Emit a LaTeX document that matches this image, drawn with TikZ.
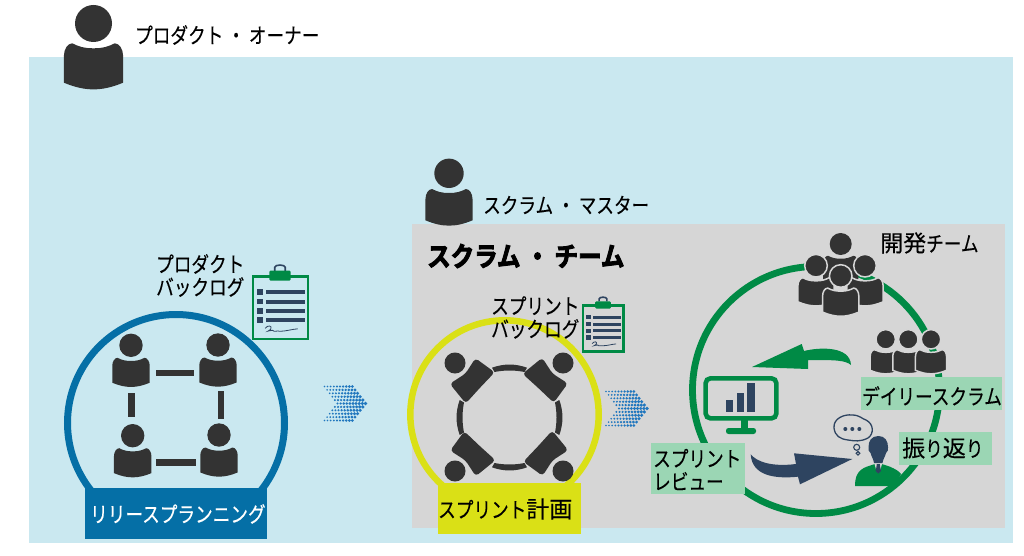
\documentclass[tikz,border=0pt]{standalone}
\usepackage{fontspec}
\newfontfamily\jp[FakeStretch=0.82,FakeBold=0.25]{Noto Sans CJK JP}
\newfontfamily\jk[FakeStretch=1.0,FakeBold=0.25]{Noto Sans CJK JP}
\newfontfamily\jpb[FakeStretch=0.87,FakeBold=3.5]{Noto Sans CJK JP Bold}
\newcommand{\kj}[1]{{\jk\fontsize{23}{23}\selectfont #1}}
\definecolor{bgblue}{HTML}{CAE8F0}
\definecolor{teamgray}{HTML}{D6D6D6}
\definecolor{dark}{HTML}{333333}
\definecolor{ringblue}{HTML}{056FA6}
\definecolor{ringyellow}{HTML}{DAE016}
\definecolor{ringgreen}{HTML}{008A45}
\definecolor{navy}{HTML}{2E4460}
\definecolor{lab}{HTML}{9BD6B4}
\definecolor{dotblue}{HTML}{2177BE}
\tikzset{
 txt/.style={font=\jp\fontsize{21.5}{23}\selectfont,inner sep=0pt,anchor=west,align=left,text=black},
 bar/.style={fill=dark},
 labbox/.style={fill=lab},
 pics/person/.style={code={
  \fill[dark,#1] (0,0) circle (1);
  \fill[dark,#1] (0,1.34) .. controls (0.5,1.34) and (0.8,1.25) .. (1.15,1.07)
    .. controls (1.4,1.07) and (1.6,1.4) .. (1.6,1.75) -- (1.6,3.2)
    .. controls (1,3.45) and (0.5,3.56) .. (0,3.56)
    .. controls (-0.5,3.56) and (-1,3.45) .. (-1.6,3.2) -- (-1.6,1.75)
    .. controls (-1.6,1.4) and (-1.4,1.07) .. (-1.15,1.07)
    .. controls (-0.8,1.25) and (-0.5,1.34) .. (0,1.34) -- cycle;
 }},
 pics/person/.default={},
 halo/.style={draw=teamgray,line width=1.5pt},
 pics/sitter/.style={code={
  \fill[dark] (0,0) circle (1);
  \fill[dark,rounded corners=3.5pt] (-1.75,1.05) -- (0,1.42) -- (1.7,1.05) -- (2.05,3.3)
    -- (0,3.35) -- (-2.0,3.45) -- cycle;
 }},
 pics/arcbit/.style={code={
  \fill[dark] (-17.5,-49.8) .. controls (-6,-54) and (6,-54) .. (17.5,-49.8)
    -- (15,-45.5) .. controls (5,-47.5) and (-5,-47.5) .. (-15,-45.5) -- cycle;
 }},
 pics/clipb/.style={code={
  \draw[ringgreen,line width=2.4pt,fill=#1] (1.2,1.2) rectangle (56.1,63.8);
  \draw[navy,line width=1.6pt] (23,-4.5) -- (23,-8) .. controls (23,-11) and (33.5,-11) .. (33.5,-8) -- (33.5,-4.5);
  \fill[ringgreen,rounded corners=1.2pt] (17.6,-4.6) rectangle (39,5.4);
  \foreach \yy in {14,23.4,32.7,42}{
    \fill[navy] (5.3,\yy) rectangle (11.6,\yy+5.6);
    \fill[navy] (14.3,\yy+1) rectangle (53.3,\yy+5);
  }
  \draw[navy,line width=.8pt] (13.5,53) .. controls (16,49.5) and (21,50) .. (19,54)
    .. controls (15,57) and (15,55.5) .. (21,55) .. controls (22,55) and (22,57) .. (24,56)
    .. controls (26,55) and (26,56) .. (28,56) .. controls (34,56) and (40,54) .. (46,53.5);
 }},
 pics/chev/.style={code={
  \foreach \i in {-5,...,5}{
    \pgfmathsetmacro\st{abs(\i)/5}
    \pgfmathsetmacro\lft{13*(1-\st)}
    \pgfmathsetmacro\rgt{30+14*(1-\st)}
    \pgfmathtruncatemacro\nn{floor((\rgt-\lft)/3.1)}
    \foreach \k in {0,...,\nn}{
      \pgfmathsetmacro\xx{\lft+\k*3.1}
      \pgfmathsetmacro\rr{0.8+1.15*\xx/44}
      \fill[dotblue] (\xx,\i*3.4) circle (\rr);
    }
  }
 }},
}
\begin{document}
\begin{tikzpicture}[x=1pt,y=-1pt]
\useasboundingbox (0,0) rectangle (1024,556);
\fill[white] (0,0) rectangle (1024,556);
\fill[bgblue] (29,57) rectangle (1013,543);
\fill[teamgray] (412,224) rectangle (1005,528);

% product owner
\pic[scale=18.5] (po) at (93.5,23.5) {person};
\node[txt] (potext) at (135,35) {プロダクト ・ オーナー};

% scrum master
\pic[scale=14.7] (sm) at (449,173.3) {person};
\node[txt] (smtext) at (483,205) {スクラム ・ マスター};
\node[txt,font=\jpb\fontsize{27}{28}\selectfont] (teamtext) at (427,256) {スクラム ・ チーム};

% release planning
\draw[ringblue,line width=7pt] (176,423) circle (108.5);
\fill[ringblue] (85,488) rectangle (267,539);
\node[txt,text=white] (reltext) at (90,514) {リリースプランニング};
\pic[scale=11.7] (a1) at (131,345.3) {person};
\pic[scale=11.7] (a2) at (218,345) {person};
\pic[scale=11.7] (a3) at (132.7,435.7) {person};
\pic[scale=11.7] (a4) at (219,435) {person};
\fill[bar] (155.7,369.7) rectangle (194.3,376.3);
\fill[bar] (156,459) rectangle (196,465.7);
\fill[bar] (128.3,393.3) rectangle (134.7,417.3);
\fill[bar] (217.7,390.7) rectangle (224,418.7);
\pic at (251.7,275.3) {clipb=bgblue};
\node[txt] (pbtext) at (156,275.5) {プロダクト\\バックログ};
\pic at (324.5,403.5) {chev};

% sprint planning
\draw[ringyellow,line width=6.5pt] (504.5,414.5) circle (94.2);
\fill[ringyellow] (438,483) rectangle (581,534);
\node[txt] (sptext) at (438,509) {スプリント\kj{計画}};
\pic[scale=10.5,rotate=45] (s1) at (455,363) {sitter};
\pic[scale=10.5,rotate=-45] (s2) at (563,363) {sitter};
\pic[scale=10.5,rotate=135] (s3) at (455,471) {sitter};
\pic[scale=10.5,rotate=-135] (s4) at (563,471) {sitter};
\pic (b1) at (509.5,417.5) {arcbit};
\pic[rotate=90] (b2) at (509.5,417.5) {arcbit};
\pic[rotate=180] (b3) at (509.5,417.5) {arcbit};
\pic[rotate=270] (b4) at (509.5,417.5) {arcbit};
\pic[scale=0.733] at (582.3,304.7) {clipb=teamgray};
\node[txt] (sbtext) at (491,317.5) {スプリント\\バックログ};
\pic at (606,408.5) {chev};

% development cycle
\draw[ringgreen,line width=6.8pt] (816,390) circle (123.5);
\fill[ringgreen] (752,367) -- (801.7,344) -- (804,351)
  .. controls (820,347) and (850,346) .. (851,365)
  .. controls (845,360) and (835,360) .. (808,360) -- (808,369) -- cycle;
\draw[ringgreen,line width=4.6pt,rounded corners=5pt] (705.6,378.3) rectangle (776.4,418.4);
\fill[ringgreen] (740.7,420) rectangle (748.3,428);
\fill[ringgreen,rounded corners=2.5pt] (726,428) rectangle (756,434);
\fill[navy] (725.7,400) rectangle (733.3,412.3);
\fill[navy] (736.7,392.7) rectangle (744.3,412.3);
\fill[navy] (747.3,383.3) rectangle (755,412.3);
\fill[navy] (750.7,454.3) .. controls (757,462) and (772,467) .. (796,464)
  -- (794,453.3) -- (852.3,459) -- (800,484.3) -- (798,476.7)
  .. controls (775,479) and (752,476) .. (750.7,454.3) -- cycle;
% thought bubble
\draw[navy,line width=1.3pt] (834,428) .. controls (833,418) and (845,414) .. (852,415)
  .. controls (860,415) and (862,419) .. (866,420) .. controls (874,424) and (874,434) .. (868,438)
  .. controls (860,442) and (855,441) .. (848,440) .. controls (840,439) and (835,436) .. (834,428) -- cycle;
\fill[navy] (845.3,429) circle (2) (852.3,429) circle (2) (859.3,429) circle (2);
\draw[navy,line width=1.1pt] (856.7,447.3) circle (3);
\draw[navy,line width=1.1pt] (858,453.3) circle (1.8);
% retrospective person
\fill[ringgreen] (855,486) .. controls (855,476) and (858,470) .. (866.7,466.7)
  -- (875,464) -- (881.7,464) -- (890,466.7) .. controls (895,469) and (899,471) .. (901,474)
  -- (894,486) -- cycle;
\fill[teamgray] (874.5,464) -- (882,464) -- (880,471) -- (878.3,473) -- (876.5,471) -- cycle;
\fill[navy] (878.3,436) .. controls (885,436) and (888,441) .. (888,447)
  .. controls (889,449) and (887.5,452) .. (886,453) .. controls (885,457) and (883,459) .. (882.5,463)
  -- (874,463) .. controls (873.5,459) and (871.5,457) .. (870.5,453)
  .. controls (869,452) and (867.5,449) .. (868.5,447)
  .. controls (868.5,441) and (871.5,436) .. (878.3,436) -- cycle;
\fill[navy] (876.8,464) -- (879.8,464) -- (880.2,467) -- (881,471) -- (878.3,473.5) -- (875.6,471) -- (876.4,467) -- cycle;

% development team
\pic[scale=11] (t1) at (840.7,244) {person};
\pic[scale=11.3] (t2) at (816,265.7) {person={halo}};
\pic[scale=11.3] (t3) at (865,265.7) {person={halo}};
\pic[scale=11.3] (t4) at (840.7,276) {person={halo}};
\node[txt] (devtext) at (880,243) {\kj{開発}チーム};
% daily scrum
\pic[scale=9.7] (d1) at (885.7,339.3) {person={halo}};
\pic[scale=9.7] (d2) at (908.3,339.3) {person={halo}};
\pic[scale=9.7] (d3) at (931,339.3) {person={halo}};

% green labels
\fill[labbox] (861,377) rectangle (1001.7,410);
\node[txt] (dstext) at (862,396) {デイリースクラム};
\fill[labbox] (899.3,432) rectangle (992,464.7);
\node[txt] (retext) at (902,448) {\kj{振}り\kj{返}り};
\fill[labbox] (651,443.3) rectangle (745,493.7);
\node[txt] (srtext) at (653,469.5) {スプリント\\レビュー};
\end{tikzpicture}
\end{document}
